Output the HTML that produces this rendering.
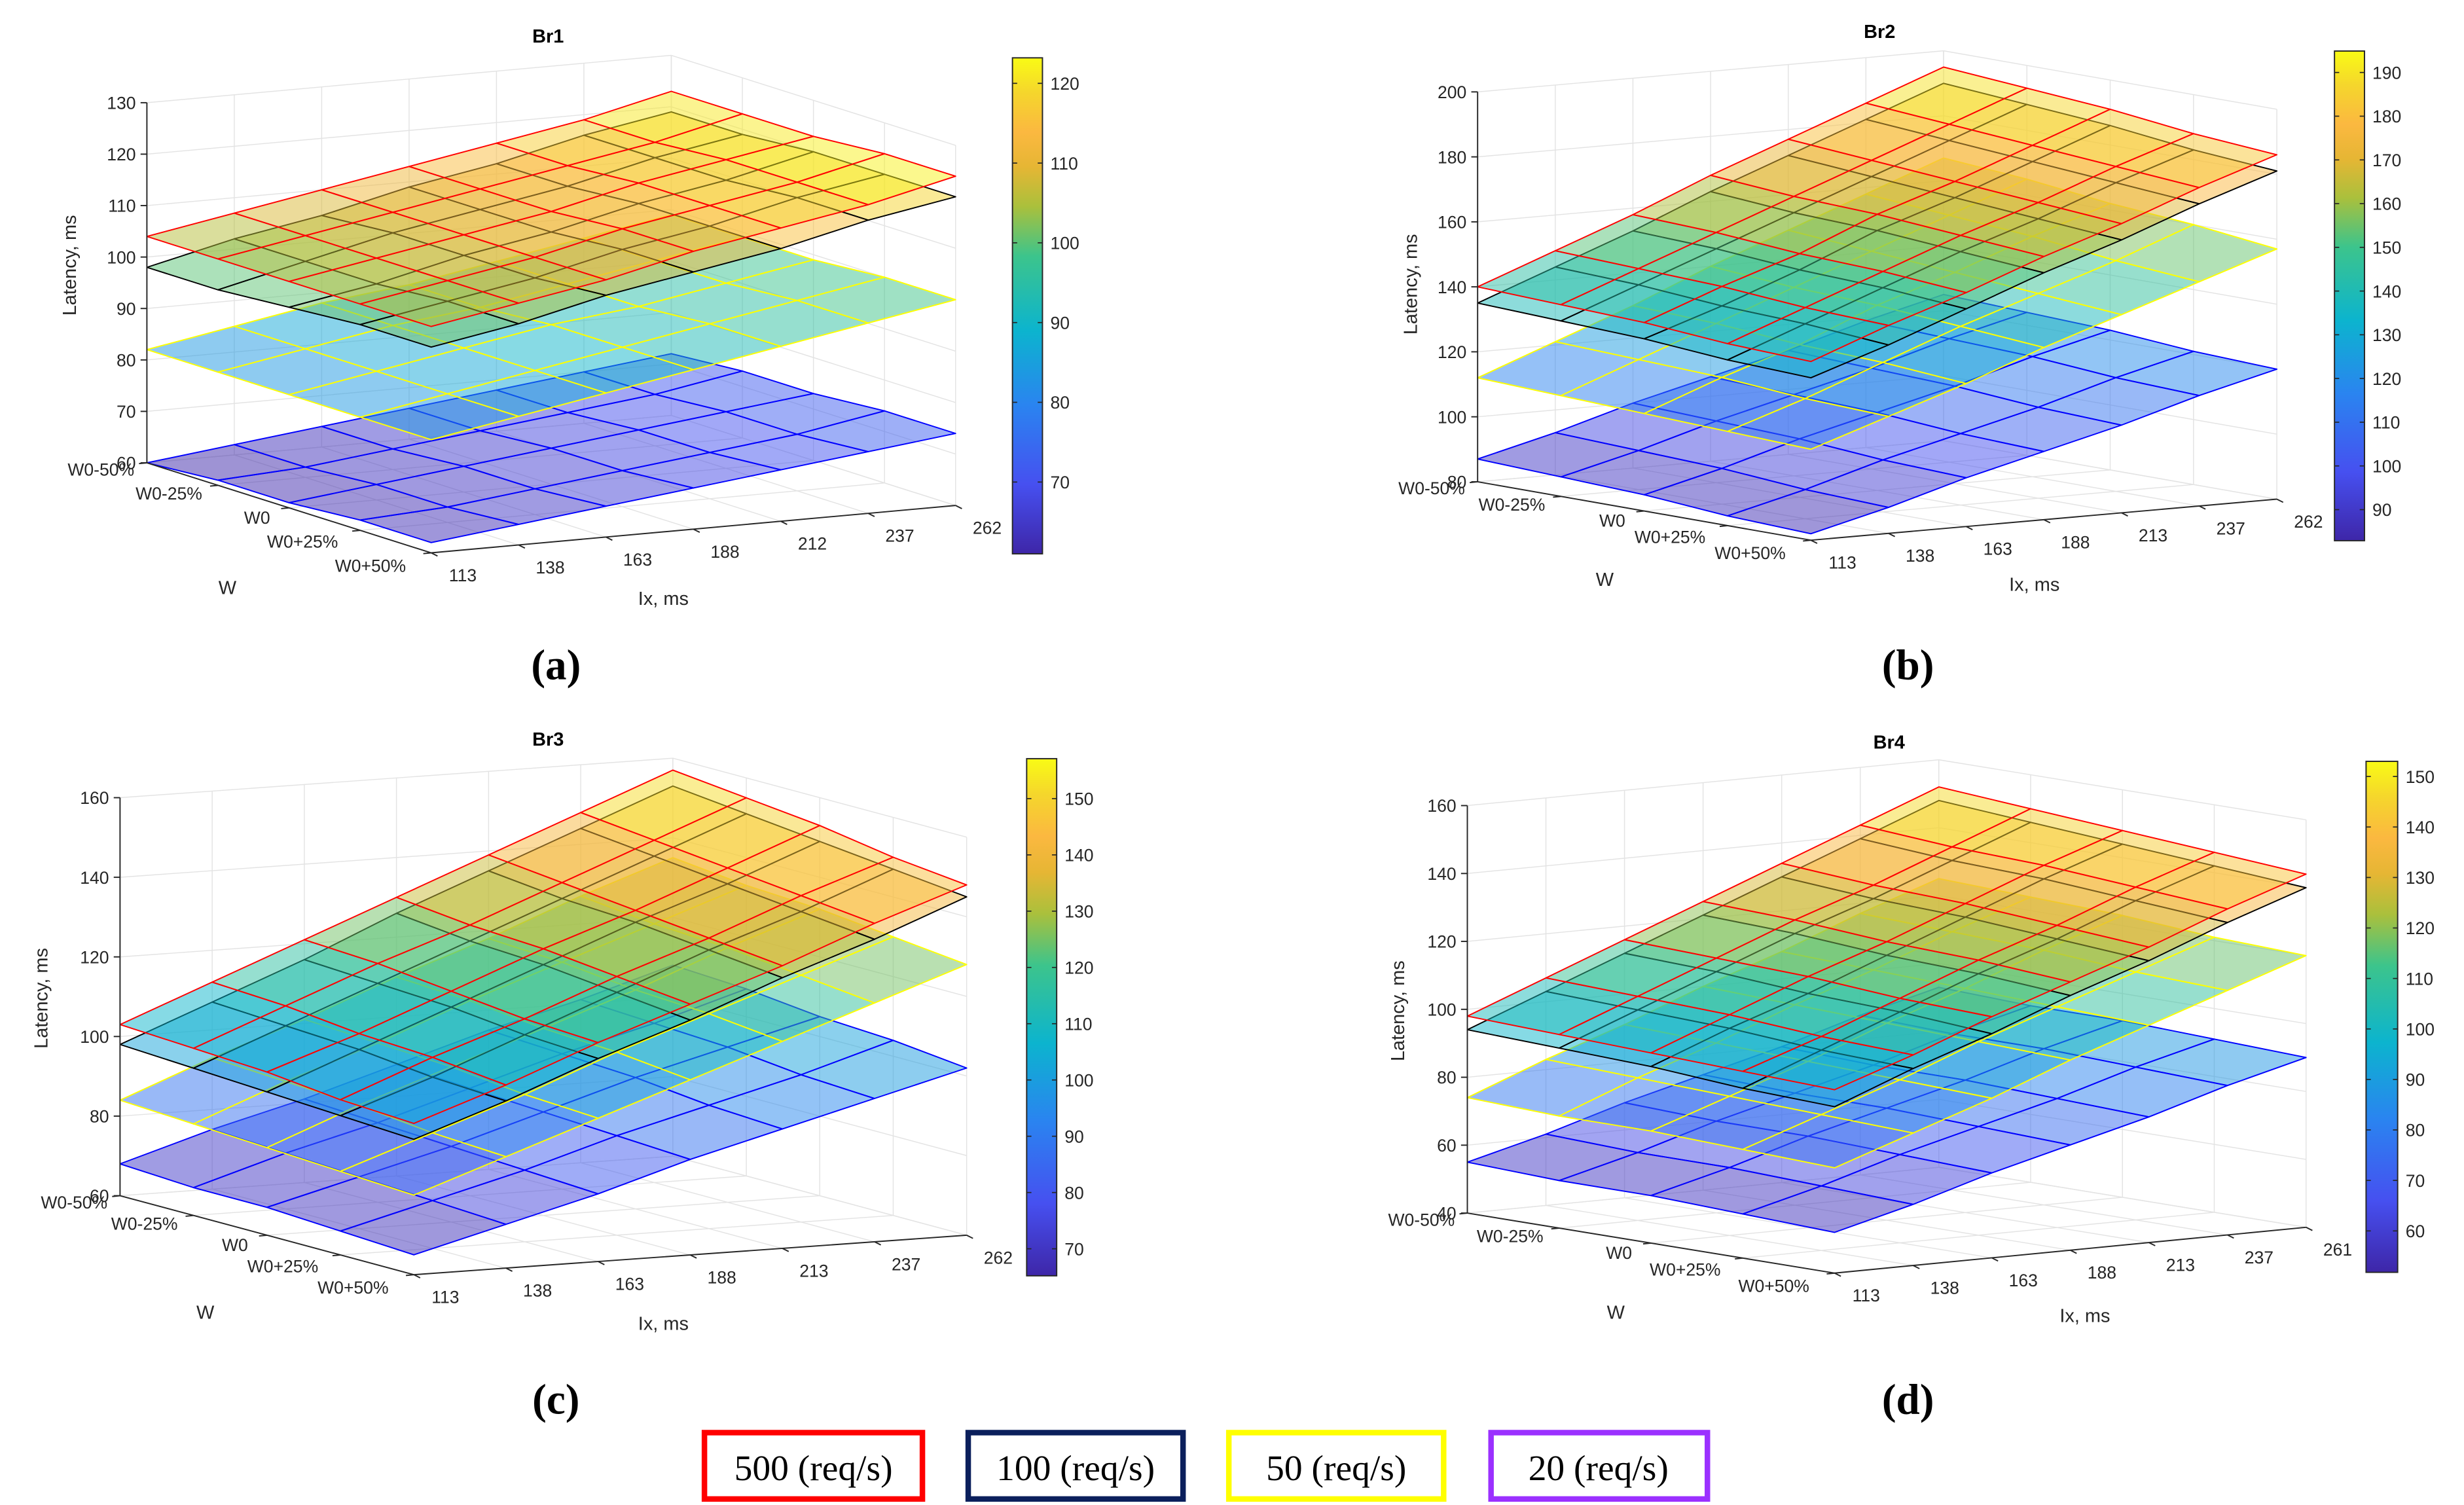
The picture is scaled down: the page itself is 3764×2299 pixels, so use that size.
<!DOCTYPE html>
<html>
<head>
<meta charset="utf-8">
<style>
html,body{margin:0;padding:0;background:#fff;}
svg{display:block;}
.tk{font-family:"Liberation Sans",sans-serif;font-size:11px;fill:#262626;}
.ttl{font-family:"Liberation Sans",sans-serif;font-size:12px;font-weight:bold;fill:#000;}
.axt{font-family:"Liberation Sans",sans-serif;font-size:12px;fill:#262626;}
.sub{font-family:"Liberation Serif",serif;font-size:27px;font-weight:bold;fill:#000;}
.leg{font-family:"Liberation Serif",serif;font-size:23px;fill:#000;}
</style>
</head>
<body>
<svg id="fig" xmlns="http://www.w3.org/2000/svg" width="3764" height="2299" viewBox="0 0 1560 952.8">
  <rect x="0" y="0" width="1560" height="952.8" fill="#fff"/>
  <g id="pa">
    <text class="ttl" x="347" y="27" text-anchor="middle">Br1</text>
    <text class="axt" transform="translate(48,168) rotate(-90)" text-anchor="middle">Latency, ms</text>
    <text class="axt" x="144" y="376" text-anchor="middle">W</text>
    <text class="axt" x="420" y="383" text-anchor="middle">Ix, ms</text>
    <text class="sub" x="352" y="430" text-anchor="middle">(a)</text>
  </g>
  <g id="pb">
    <text class="ttl" x="1190" y="24" text-anchor="middle">Br2</text>
    <text class="axt" transform="translate(897,180) rotate(-90)" text-anchor="middle">Latency, ms</text>
    <text class="axt" x="1016" y="371" text-anchor="middle">W</text>
    <text class="axt" x="1288" y="374" text-anchor="middle">Ix, ms</text>
    <text class="sub" x="1208" y="430" text-anchor="middle">(b)</text>
  </g>
  <g id="pc">
    <text class="ttl" x="347" y="472" text-anchor="middle">Br3</text>
    <text class="axt" transform="translate(30,632) rotate(-90)" text-anchor="middle">Latency, ms</text>
    <text class="axt" x="130" y="835" text-anchor="middle">W</text>
    <text class="axt" x="420" y="842" text-anchor="middle">Ix, ms</text>
    <text class="sub" x="352" y="895" text-anchor="middle">(c)</text>
  </g>
  <g id="pd">
    <text class="ttl" x="1196" y="474" text-anchor="middle">Br4</text>
    <text class="axt" transform="translate(889,640) rotate(-90)" text-anchor="middle">Latency, ms</text>
    <text class="axt" x="1023" y="835" text-anchor="middle">W</text>
    <text class="axt" x="1320" y="837" text-anchor="middle">Ix, ms</text>
    <text class="sub" x="1208" y="895" text-anchor="middle">(d)</text>
  </g>
  <g>
    <g>
      <rect x="446" y="907" width="138" height="42" fill="#fff" stroke="#ff0000" stroke-width="3.5"/>
      <text class="leg" x="515" y="937" text-anchor="middle">500 (req/s)</text>
    </g>
    <g>
      <rect x="613" y="907" width="136" height="42" fill="#fff" stroke="#0b1f5c" stroke-width="3.5"/>
      <text class="leg" x="681" y="937" text-anchor="middle">100 (req/s)</text>
    </g>
    <g>
      <rect x="778" y="907" width="136" height="42" fill="#fff" stroke="#ffff00" stroke-width="3.5"/>
      <text class="leg" x="846" y="937" text-anchor="middle">50 (req/s)</text>
    </g>
    <g>
      <rect x="944" y="907" width="137" height="42" fill="#fff" stroke="#9b30ff" stroke-width="3.5"/>
      <text class="leg" x="1012" y="937" text-anchor="middle">20 (req/s)</text>
    </g>
  </g>
</svg>
<script>
// ---------- data ----------
const wLabels = ['W0-50%','W0-25%','W0','W0+25%','W0+50%'];
const ixLabelsA = ['113','138','163','188','212','237','262'];
const ixLabelsB = ['113','138','163','188','213','237','262'];
const ixLabelsC = ['113','138','163','188','213','237','262'];
const ixLabelsD = ['113','138','163','188','213','237','261'];
const zTicksA = [60,70,80,90,100,110,120,130];
const zTicksB = [80,100,120,140,160,180,200];
const zTicksC = [60,80,100,120,140,160];
const zTicksD = [40,60,80,100,120,140,160];
const cbTicksA = [70,80,90,100,110,120];
const cbTicksB = [90,100,110,120,130,140,150,160,170,180,190];
const cbTicksC = [70,80,90,100,110,120,130,140,150];
const cbTicksD = [60,70,80,90,100,110,120,130,140,150];
const climA = [61,123.2];
const climB = [82.9,194.9];
const climC = [65.2,157.1];
const climD = [51.8,153];

// surfaces: rows = W (W0-50% .. W0+50%), cols = Ix
const br1_500 = [[104,107,110,113,116,119,123],[104,107,110,113,116,119,123],[104,107,110,113,117,120,123],[104,107,110,114,117,120,124],[104,107,110,114,117,120,124]];
const br1_100 = [[98,102,105,109,112,116,119],[98,102,106,109,112,116,119],[99,102,106,109,113,116,120],[100,103,106,110,113,117,120],[100,103,107,110,113,117,120]];
const br1_50  = [[82,85,88,90,93,96,99],[82,85,88,90,93,96,99],[82,85,88,91,93,96,99],[82,85,88,91,94,97,100],[82,85,88,91,94,97,100]];
const br1_20  = [[60,62,64,66,68,70,72],[61,62,64,66,68,70,73],[61,63,65,67,69,71,73],[62,63,65,67,69,71,74],[62,64,66,68,70,72,74]];

const br2_500 = [[140,149,158,168,177,186,195],[139,148,157,166,175,184,193],[138,147,155,165,173,182,191],[136,145,154,163,171,180,188],[135,144,152,161,169,178,186]];
const br2_100 = [[135,144,153,163,172,181,190],[134,143,152,161,170,179,188],[133,141,150,160,168,177,186],[131,140,149,158,166,175,183],[130,138,147,156,164,173,181]];
const br2_50  = [[112,121,130,140,149,158,167],[111,120,129,138,147,156,165],[110,119,127,137,145,154,162],[109,117,126,135,143,151,160],[108,116,124,133,141,149,157]];
const br2_20  = [[87,93,100,106,112,119,125],[86,92,99,105,111,118,124],[85,91,98,104,110,117,123],[83,89,96,102,108,115,121],[82,88,95,101,107,114,120]];

const br3_500 = [[103,112,121,130,139,148,157],[102,111,120,128,137,146,155],[101,109,118,127,135,144,153],[99,108,116,125,133,142,150],[98,106,115,123,131,140,148]];
const br3_100 = [[98,107,116,126,135,144,153],[97,106,115,124,133,142,151],[96,105,114,123,132,140,149],[95,103,112,121,130,138,147],[94,102,111,119,128,136,145]];
const br3_50  = [[84,93,101,110,118,127,135],[83,92,100,109,117,125,133],[82,91,99,107,115,124,132],[81,89,97,106,114,122,130],[80,88,96,104,112,120,128]];
const br3_20  = [[68,75,81,88,95,101,108],[67,74,80,87,94,100,107],[67,73,79,86,93,99,105],[66,72,78,85,91,97,104],[65,71,77,84,90,96,102]];

const br4_500 = [[98,107,116,125,134,143,152],[97,106,115,124,132,141,150],[96,105,114,122,131,140,148],[95,103,112,121,129,138,146],[94,102,111,119,127,136,144]];
const br4_100 = [[94,103,112,121,130,139,148],[93,102,111,120,128,137,146],[92,101,109,118,127,136,144],[90,99,108,117,125,134,142],[89,98,106,115,123,132,140]];
const br4_50  = [[74,83,91,100,108,117,125],[73,82,90,99,107,116,124],[73,81,89,98,106,115,123],[72,80,88,97,105,113,121],[71,79,87,96,104,112,120]];
const br4_20  = [[55,61,68,74,80,87,93],[54,60,67,73,79,86,92],[54,60,67,73,79,86,92],[53,59,66,72,78,85,91],[52,58,65,71,77,84,90]];

// ---------- rendering ----------
const NS = 'http://www.w3.org/2000/svg';
const parula = [[0,[62,38,168]],[0.14,[70,80,240]],[0.3,[42,132,240]],[0.45,[12,180,206]],[0.6,[60,196,140]],[0.7,[170,192,60]],[0.78,[230,182,52]],[0.85,[251,184,64]],[0.93,[245,214,44]],[1,[249,251,21]]];
function pcol(t){
  t = Math.max(0, Math.min(1, t));
  for (let k = 1; k < parula.length; k++) {
    if (t <= parula[k][0]) {
      const a = parula[k-1], b = parula[k];
      const f = (t - a[0]) / (b[0] - a[0]);
      const c = a[1].map((v, m) => Math.round(v + (b[1][m] - v) * f));
      return 'rgb(' + c.join(',') + ')';
    }
  }
  return 'rgb(249,251,21)';
}
function mk(tag, attrs, parent){
  const el = document.createElementNS(NS, tag);
  for (const k in attrs) el.setAttribute(k, attrs[k]);
  parent.appendChild(el);
  return el;
}

const panels = [
  {id:'pa', key:'br1', O:[93,293], W:[273,350], I:[605,320], zmin:60, zmax:130, k:3.257, zt:zTicksA, ix:ixLabelsA, cb:[641,36.6,660,350.6], clim:climA, cbt:cbTicksA, surf:[br1_20,br1_50,br1_100,br1_500]},
  {id:'pb', key:'br2', O:[935.5,305], W:[1146.5,342], I:[1441.5,316], zmin:80, zmax:200, k:2.057, zt:zTicksB, ix:ixLabelsB, cb:[1478,32.3,1497,342.3], clim:climB, cbt:cbTicksB, surf:[br2_20,br2_50,br2_100,br2_500]},
  {id:'pc', key:'br3', O:[76,757], W:[262,807], I:[612,782], zmin:60, zmax:160, k:2.52, zt:zTicksC, ix:ixLabelsC, cb:[650,480.3,669,807.7], clim:climC, cbt:cbTicksC, surf:[br3_20,br3_50,br3_100,br3_500]},
  {id:'pd', key:'br4', O:[929,768], W:[1161.5,806], I:[1460,777], zmin:40, zmax:160, k:2.15, zt:zTicksD, ix:ixLabelsD, cb:[1498,482,1518,805.5], clim:climD, cbt:cbTicksD, surf:[br4_20,br4_50,br4_100,br4_500]}
];
const surfNames = ['20','50','100','500'];
const edgeCols = ['#0000ff','#ffff00','#000000','#ff0000'];

panels.forEach(p => {
  const root = document.getElementById(p.id);
  const P = (i, j, z) => [
    p.O[0] + (p.W[0] - p.O[0]) * i / 4 + (p.I[0] - p.W[0]) * j / 6,
    p.O[1] + (p.W[1] - p.O[1]) * i / 4 + (p.I[1] - p.W[1]) * j / 6 - (z - p.zmin) * p.k
  ];
  const line = (a, b, col, w, g) => mk('line', {x1:a[0], y1:a[1], x2:b[0], y2:b[1], stroke:col, 'stroke-width':w}, g);

  const grid = mk('g', {}, root);
  
  
  const gc = '#e3e3e3';
  for (let j = 0; j <= 6; j++) {
    let l = line(P(0,j,p.zmin), P(0,j,p.zmax), gc, 0.6, grid);
    
    
    l = line(P(0,j,p.zmin), P(4,j,p.zmin), gc, 0.6, grid);
    
    
  }
  for (let i = 0; i <= 4; i++) {
    let l = line(P(i,6,p.zmin), P(i,6,p.zmax), gc, 0.6, grid);
    
    
    l = line(P(i,0,p.zmin), P(i,6,p.zmin), gc, 0.6, grid);
    
    
  }
  p.zt.forEach(z => {
    let l = line(P(0,0,z), P(0,6,z), gc, 0.6, grid);
    
    
    l = line(P(0,6,z), P(4,6,z), gc, 0.6, grid);
    
    
  });

  // surfaces
  p.surf.forEach((S, s) => {
    const g = mk('g', {}, root);
    
    
    const cells = [];
    for (let i = 0; i < 4; i++) for (let j = 0; j < 6; j++) cells.push([i, j]);
    cells.sort((a, b) => (b[1] - b[0]) - (a[1] - a[0]));
    cells.forEach(([i, j]) => {
      const pts = [P(i,j,S[i][j]), P(i,j+1,S[i][j+1]), P(i+1,j+1,S[i+1][j+1]), P(i+1,j,S[i+1][j])];
      const avg = (S[i][j] + S[i][j+1] + S[i+1][j+1] + S[i+1][j]) / 4;
      const t = (avg - p.clim[0]) / (p.clim[1] - p.clim[0]);
      const poly = mk('polygon', {points: pts.map(q => q.join(',')).join(' '), fill: pcol(t), 'fill-opacity': 0.5, stroke: edgeCols[s], 'stroke-width': 0.8, 'stroke-linejoin':'round'}, g);
      
      
    });
  });

  // axes
  const ax = mk('g', {}, root);
  
  
  let l = line(P(0,0,p.zmin), P(0,0,p.zmax), '#262626', 0.8, ax);
  
  
  l = line(P(0,0,p.zmin), P(4,0,p.zmin), '#262626', 0.8, ax);
  
  
  l = line(P(4,0,p.zmin), P(4,6,p.zmin), '#262626', 0.8, ax);
  
  

  p.zt.forEach(z => {
    const q = P(0,0,z);
    const tk = line([q[0]-4, q[1]], q, '#262626', 0.8, ax);
    
    
    const t = mk('text', {x: q[0]-7, y: q[1]+4, 'text-anchor':'end', class:'tk'}, ax);
    t.textContent = String(z);
    
    
  });
  wLabels.forEach((w, i) => {
    const q = P(i,0,p.zmin);
    const tk = line(q, [q[0]-5, q[1]+0.5], '#262626', 0.8, ax);
    
    
    const t = mk('text', {x: q[0]-8-2*i, y: q[1]+8+i, 'text-anchor':'end', class:'tk'}, ax);
    t.textContent = w;
    
    
  });
  p.ix.forEach((v, j) => {
    const q = P(4,j,p.zmin);
    const tk = line(q, [q[0]+4, q[1]+2], '#262626', 0.8, ax);
    
    
    const t = mk('text', {x: q[0]+20, y: q[1]+18, 'text-anchor':'middle', class:'tk'}, ax);
    t.textContent = v;
    
    
  });

  // colorbar
  const cb = mk('g', {}, root);
  
  
  const gid = 'grad-' + p.key;
  const defs = mk('defs', {}, cb);
  const lg = mk('linearGradient', {id: gid, x1:0, y1:1, x2:0, y2:0}, defs);
  parula.forEach(st => {
    mk('stop', {offset: st[0], 'stop-color': 'rgb(' + st[1].join(',') + ')'}, lg);
  });
  const [x0, y0, x1, y1] = p.cb;
  const r = mk('rect', {x:x0, y:y0, width:x1-x0, height:y1-y0, fill:'url(#' + gid + ')', stroke:'#262626', 'stroke-width':0.8}, cb);
  
  
  const cy = v => y1 - (v - p.clim[0]) / (p.clim[1] - p.clim[0]) * (y1 - y0);
  p.cbt.forEach(v => {
    const y = cy(v);
    let tk = line([x1-3, y], [x1, y], '#262626', 0.7, cb);
    
    
    tk = line([x0, y], [x0+3, y], '#262626', 0.7, cb);
    
    
    const t = mk('text', {x: x1+5, y: y+4, class:'tk', 'font-size':'10.5'}, cb);
    t.textContent = String(v);
    
    
  });
});
</script>
</body>
</html>
